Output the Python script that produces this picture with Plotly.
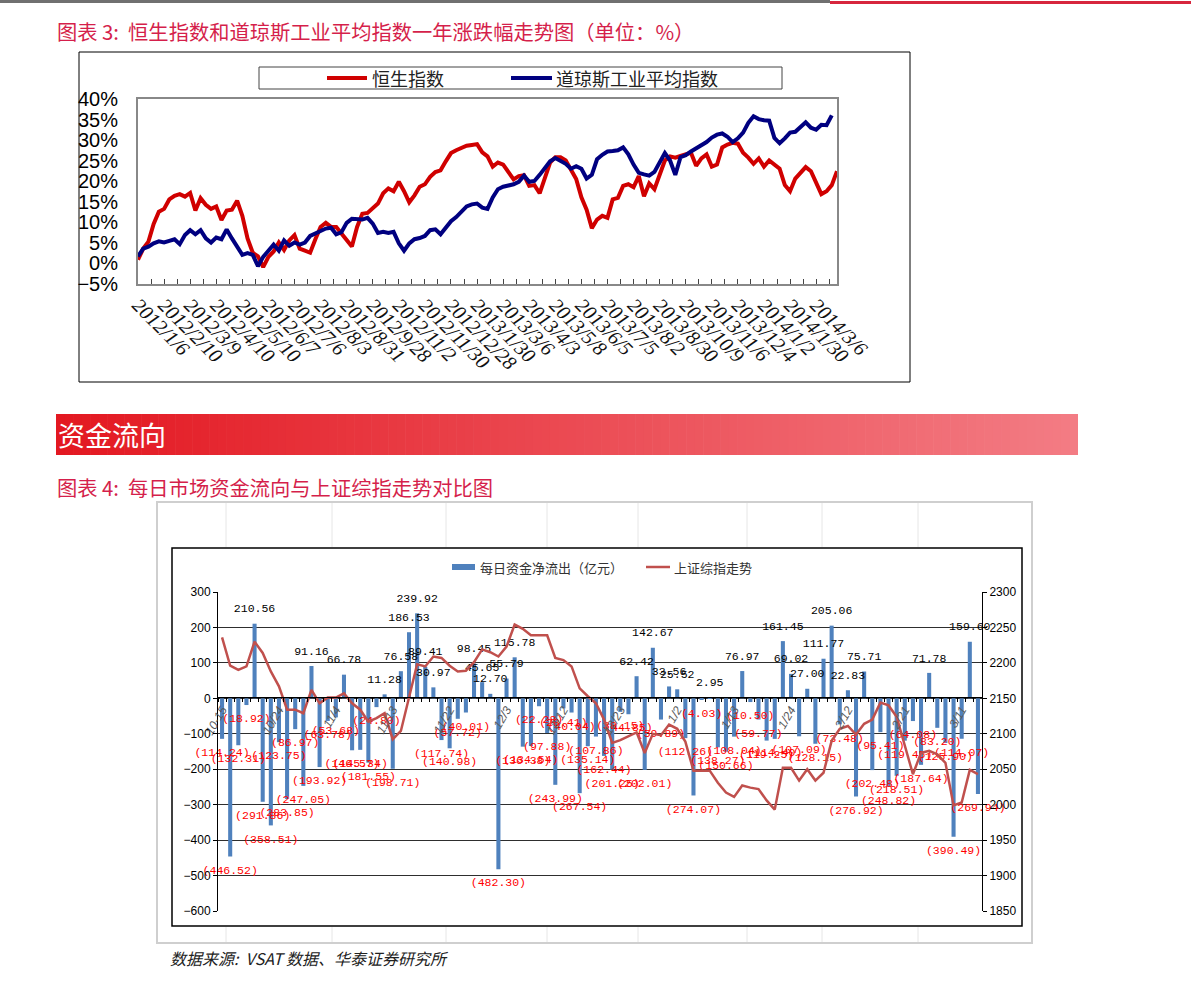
import plotly.graph_objects as go

W, H = 1191, 987
def fx(x): return x / W
def fy(y): return 1 - y / H

# ---------------- Chart 1 data (one-year change, %) ----------------
hsi_pct = [0.8, 3.5, 5.2, 9.5, 12.5, 13.2, 15.5, 16.4, 16.8, 16.2,
           17.1, 12.8, 15.8, 14.2, 13.2, 13.8, 10.5, 12.8, 13.0, 15.2,
           11.5, 6.0, 2.5, 1.6, -1.0, 1.5, 2.8, 5.0, 3.2, 5.5,
           6.8, 3.5, 3.0, 2.5, 5.8, 8.8, 9.8, 8.8, 8.8, 7.2,
           5.5, 4.0, 8.8, 12.0, 12.2, 13.5, 14.5, 17.0, 18.2, 17.5,
           19.8, 17.5, 14.8, 16.5, 18.6, 19.2, 21.0, 22.2, 22.6, 24.8,
           26.8, 27.5, 28.0, 28.6, 28.8, 29.0, 27.0, 26.0, 23.5, 24.5,
           24.0, 22.0, 20.4, 21.2, 21.4, 18.8, 19.0, 17.0, 21.0, 24.5,
           25.8, 25.8, 25.0, 22.5, 20.5, 16.0, 13.0, 8.5, 10.6, 11.5,
           11.0, 15.5, 15.9, 18.8, 19.2, 18.5, 21.2, 16.3, 19.4, 18.0,
           21.5, 25.0, 26.0, 25.7, 26.1, 26.5, 26.9, 23.7, 25.5, 26.5,
           23.5, 24.0, 28.2, 28.9, 29.3, 29.1, 26.9, 25.7, 24.2, 25.5,
           23.5, 25.0, 24.0, 23.0, 19.0, 17.5, 20.6, 22.0, 23.4, 22.4,
           19.5, 16.8, 17.5, 19.0, 22.4]
dji_pct = [1.6, 3.5, 4.0, 4.8, 5.3, 5.0, 5.4, 5.8, 4.6, 6.8,
           8.0, 7.0, 8.0, 6.0, 5.0, 6.2, 5.8, 8.2, 6.0, 4.0,
           2.0, 2.4, 2.0, -0.8, 1.5, 3.0, 4.5, 3.0, 5.5, 4.2,
           5.0, 4.5, 5.0, 6.6, 7.2, 7.8, 8.4, 8.6, 7.0, 7.5,
           9.8, 10.8, 10.6, 10.6, 11.0, 9.6, 7.3, 7.6, 7.3, 7.6,
           4.8, 3.0, 4.8, 5.8, 6.1, 6.6, 8.0, 8.2, 7.0, 8.5,
           10.2, 11.2, 12.5, 13.8, 14.3, 14.5, 13.5, 13.2, 16.0, 18.0,
           18.6, 18.8, 19.2, 19.8, 21.3, 19.8, 20.0, 21.5, 23.2, 24.8,
           25.6, 25.0, 24.2, 23.0, 23.6, 23.0, 20.6, 21.5, 25.3, 26.4,
           27.2, 27.3, 27.5, 28.2, 26.5, 24.0, 22.0, 21.6, 21.3, 22.2,
           24.5, 26.8, 25.0, 21.5, 25.8, 26.3, 27.2, 28.0, 28.8, 29.5,
           30.6, 31.3, 31.6, 30.8, 29.5, 30.4, 31.8, 34.2, 35.8, 35.1,
           34.8, 34.7, 30.5, 29.2, 30.4, 31.8, 32.0, 33.0, 34.3, 33.0,
           32.5, 33.7, 33.6, 36.0]
c1_dates = ["2012/1/6", "2012/2/10", "2012/3/9", "2012/4/10", "2012/5/10", "2012/6/7",
            "2012/7/6", "2012/8/3", "2012/8/31", "2012/9/28", "2012/11/2", "2012/11/30",
            "2012/12/28", "2013/1/30", "2013/3/6", "2013/4/3", "2013/5/8", "2013/6/5",
            "2013/7/5", "2013/8/2", "2013/8/30", "2013/10/9", "2013/11/6", "2013/12/4",
            "2014/1/2", "2014/1/30", "2014/3/6"]
c1_step = 5  # data points between two date labels

# ---------------- Chart 2 data ----------------
flow = [-114.24, -446.52, -132.31, -18.92, 210.56, -291.86, -358.51, -123.75, -283.85, -86.97,
        -247.05, 91.16, -193.92, -63.78, -53.68, 66.78, -146.57, -145.34, -181.55, -24.80,
        11.28, -198.71, 76.58, 186.53, 239.92, 89.41, 30.97, -117.74, -140.98, -57.72,
        -40.01, 98.45, 45.65, 12.70, -482.30, 55.79, 115.78, -136.38, -134.54, -22.28,
        -97.88, -243.99, -28.41, -40.04, -267.54, -135.14, -107.86, -162.44, -201.25, -38.15,
        -44.85, 62.42, -202.01, 142.67, -59.89, 33.56, 25.52, -112.26, -274.07, -4.03,
        2.95, -138.27, -150.66, -108.04, 76.97, -10.50, -59.77, -119.25, -114.40, 161.45,
        69.02, -107.09, 27.00, -128.15, 111.77, 205.06, -73.48, 22.83, -276.92, 75.71,
        -202.48, -95.41, -248.82, -218.51, -119.45, -64.08, -187.64, 71.78, -83.20, -125.90,
        -390.49, -114.07, 159.60, -269.94]
sse = [2236, 2196, 2190, 2195, 2230, 2214, 2188, 2167, 2134, 2134,
       2129, 2162, 2143, 2151, 2151, 2157, 2143, 2134, 2117, 2122,
       2129, 2092, 2104, 2152, 2198, 2195, 2209, 2207, 2196, 2188,
       2189, 2201, 2219, 2215, 2209, 2223, 2254, 2248, 2239, 2239,
       2239, 2207, 2204, 2195, 2164, 2153, 2143, 2120, 2087, 2091,
       2097, 2102, 2073, 2100, 2098, 2113, 2107, 2089, 2048, 2048,
       2048, 2031, 2017, 2011, 2027, 2024, 2022, 2006, 1993, 2052,
       2052, 2034, 2050, 2034, 2045, 2090, 2107, 2111, 2099, 2114,
       2120, 2144, 2140, 2124, 2082, 2043, 2073, 2076, 2071, 2059,
       1999, 2003, 2049, 2043]
c2_dates = ["10-15", "10/24", "11/4", "11/13", "11/22", "12/3", "12/12",
            "12/23", "1/2", "1/13", "1/24", "2/12", "2/21", "3/11"]
c2_step = 7

CJK = "Noto Sans CJK SC"
fig = go.Figure()

# Chart 1 traces
fig.add_trace(go.Scatter(x=list(range(len(hsi_pct))), y=hsi_pct, mode="lines",
                         line=dict(color="#D00000", width=4), xaxis="x", yaxis="y",
                         showlegend=False, hoverinfo="skip"))
fig.add_trace(go.Scatter(x=list(range(len(dji_pct))), y=dji_pct, mode="lines",
                         line=dict(color="#000080", width=4), xaxis="x", yaxis="y",
                         showlegend=False, hoverinfo="skip"))

# Chart 2 traces
x2 = list(range(len(flow)))
texts = [f"{v:.2f}" if v >= 0 else f"({-v:.2f})" for v in flow]
tcolors = ["#000000" if v >= 0 else "#FF0000" for v in flow]
tpos = ["top center" if v >= 0 else "bottom center" for v in flow]
fig.add_trace(go.Bar(x=x2, y=flow, xaxis="x2", yaxis="y2", width=0.5,
                     marker=dict(color="#4F81BD", line=dict(width=0)),
                     showlegend=False, hoverinfo="skip"))
fig.add_trace(go.Scatter(x=x2, y=flow, xaxis="x2", yaxis="y2", mode="markers+text",
                         marker=dict(size=12, opacity=0, color="white"),
                         text=texts, textposition=tpos,
                         textfont=dict(family="Liberation Mono", size=11.5, color=tcolors),
                         cliponaxis=False, showlegend=False, hoverinfo="skip"))
fig.add_trace(go.Scatter(x=x2, y=sse, xaxis="x2", yaxis="y3", mode="lines",
                         line=dict(color="#C0504D", width=2.5),
                         showlegend=False, hoverinfo="skip"))

shapes = []
def rect(x0, y0, x1, y1, line=None, fill=None, lw=1):
    shapes.append(dict(type="rect", xref="paper", yref="paper",
                       x0=fx(x0), x1=fx(x1), y0=fy(y1), y1=fy(y0),
                       line=dict(color=line or "rgba(0,0,0,0)", width=lw if line else 0),
                       fillcolor=fill or "rgba(0,0,0,0)", layer="below"))
def hline(x0, x1, y, color, w):
    shapes.append(dict(type="line", xref="paper", yref="paper",
                       x0=fx(x0), x1=fx(x1), y0=fy(y), y1=fy(y),
                       line=dict(color=color, width=w)))
def vline(x, y0, y1, color, w):
    shapes.append(dict(type="line", xref="paper", yref="paper",
                       x0=fx(x), x1=fx(x), y0=fy(y0), y1=fy(y1),
                       line=dict(color=color, width=w), layer="below"))

# top strip
rect(0, 0, 830, 3, fill="#707070")
rect(830, 1, 1191, 4, fill="#D7263D")

# chart 1 frame and legend box
rect(79, 52, 910, 382, line="#000000", lw=1)
rect(259, 67, 782, 89, line="#444444", lw=1)
hline(327, 367, 78, "#D00000", 4)
hline(511, 552, 78, "#000080", 4)

# banner gradient
n = 120
x_start, x_end = 56, 1078
c0, c1 = (227, 24, 33), (243, 124, 132)
for i in range(n):
    t = i / (n - 1)
    col = tuple(int(round(c0[k] + (c1[k] - c0[k]) * t)) for k in range(3))
    xa = x_start + (x_end - x_start) * i / n
    xb = x_start + (x_end - x_start) * (i + 1) / n + 0.6
    rect(xa, 414, min(xb, x_end), 455, fill="rgb(%d,%d,%d)" % col)

# chart 2 frames
rect(157, 502, 1032, 943, line="#CFCFCF", lw=2)
for xv in [226, 332, 446, 547, 638, 747, 822, 918]:
    vline(xv, 503, 547, "#E6E6E6", 1)
    vline(xv, 927, 942, "#E6E6E6", 1)
rect(172, 548, 1022, 926, line="#000000", lw=1.5)
rect(452, 564, 475, 570, fill="#4F81BD")
hline(646, 670, 567, "#C0504D", 2.5)

annotations = []
def text(x, y, s, size, color="#000", family=CJK, xanchor="left", style="normal"):
    annotations.append(dict(xref="paper", yref="paper", x=fx(x), y=fy(y), text=s,
                            showarrow=False, xanchor=xanchor, yanchor="middle",
                            font=dict(family=family, size=size, color=color, style=style)))

text(55, 31, "图表 3:  恒生指数和道琼斯工业平均指数一年涨跌幅走势图（单位：%）", 20.3, "#D51F4B")
text(370, 78, "恒生指数", 18, "#222")
text(554, 78, "道琼斯工业平均指数", 18, "#222")
text(56, 435, "资金流向", 27, "#FFFFFF")
text(55, 487, "图表 4:  每日市场资金流向与上证综指走势对比图", 20.3, "#D51F4B")
text(478, 567, "每日资金净流出（亿元）", 13, "#333")
text(672, 567, "上证综指走势", 13, "#333")
text(168, 958, "数据来源:  VSAT 数据、华泰证券研究所", 16, "#222", style="italic")

fig.update_layout(
    template="none",
    width=W, height=H, margin=dict(l=0, r=0, t=0, b=0, pad=0, autoexpand=False),
    paper_bgcolor="white", plot_bgcolor="white", showlegend=False,
    shapes=shapes, annotations=annotations,
    xaxis=dict(domain=[fx(138), fx(837)], anchor="y", range=[0, len(hsi_pct) - 1],
               automargin=False,
               tickmode="array", tickvals=[i * c1_step for i in range(len(c1_dates))],
               ticktext=c1_dates, tickangle=45, ticks="inside", ticklen=5, tickcolor="#444",
               tickfont=dict(family="Liberation Serif", size=20, style="italic", color="#111"),
               showline=True, mirror=True, linecolor="#888888", linewidth=2,
               showgrid=False, zeroline=False,
               minor=dict(tickmode="array",
                          tickvals=[i * c1_step + c1_step / 2 for i in range(len(c1_dates))],
                          ticks="inside", ticklen=5, tickcolor="#444")),
    yaxis=dict(domain=[fy(283.5), fy(99)], anchor="x", range=[-5, 40], dtick=5, tick0=0,
               automargin=False,
               ticksuffix="%", ticks="", showline=True, mirror=True, linecolor="#888888",
               linewidth=2, showgrid=False, zeroline=False, ticklabelstandoff=14,
               tickfont=dict(family="Liberation Sans", size=20, color="#000")),
    xaxis2=dict(domain=[fx(218), fx(982)], anchor="free", position=fy(697),
                automargin=False,
                range=[-0.5, len(flow) - 0.5], tickmode="array",
                tickvals=[i * c2_step for i in range(len(c2_dates))], ticktext=c2_dates,
                tickangle=-60, ticks="",
                tickfont=dict(family="Liberation Sans", size=12, style="italic", color="#595959"),
                showline=True, linecolor="#000", linewidth=1, showgrid=False, zeroline=False,
                minor=dict(tickmode="array", tickvals=[i - 0.5 for i in range(len(flow) + 1)],
                           ticks="outside", ticklen=4, tickcolor="#000")),
    yaxis2=dict(domain=[fy(911), fy(592)], anchor="x2", range=[-600, 300], dtick=100, tick0=0,
                automargin=False,
                showgrid=True, gridcolor="#2E2E2E", gridwidth=1.2, showline=True, linecolor="#000",
                ticks="outside", ticklen=4, tickcolor="#000", zeroline=False,
                tickfont=dict(family="Liberation Sans", size=12, color="#000")),
    yaxis3=dict(overlaying="y2", anchor="x2", side="right", range=[1850, 2300], dtick=50,
                automargin=False,
                tick0=1850, showgrid=False, showline=True, linecolor="#000", ticks="outside",
                ticklen=4, tickcolor="#000", zeroline=False,
                tickfont=dict(family="Liberation Sans", size=12, color="#000")),
)

fig.write_html("out.html")
